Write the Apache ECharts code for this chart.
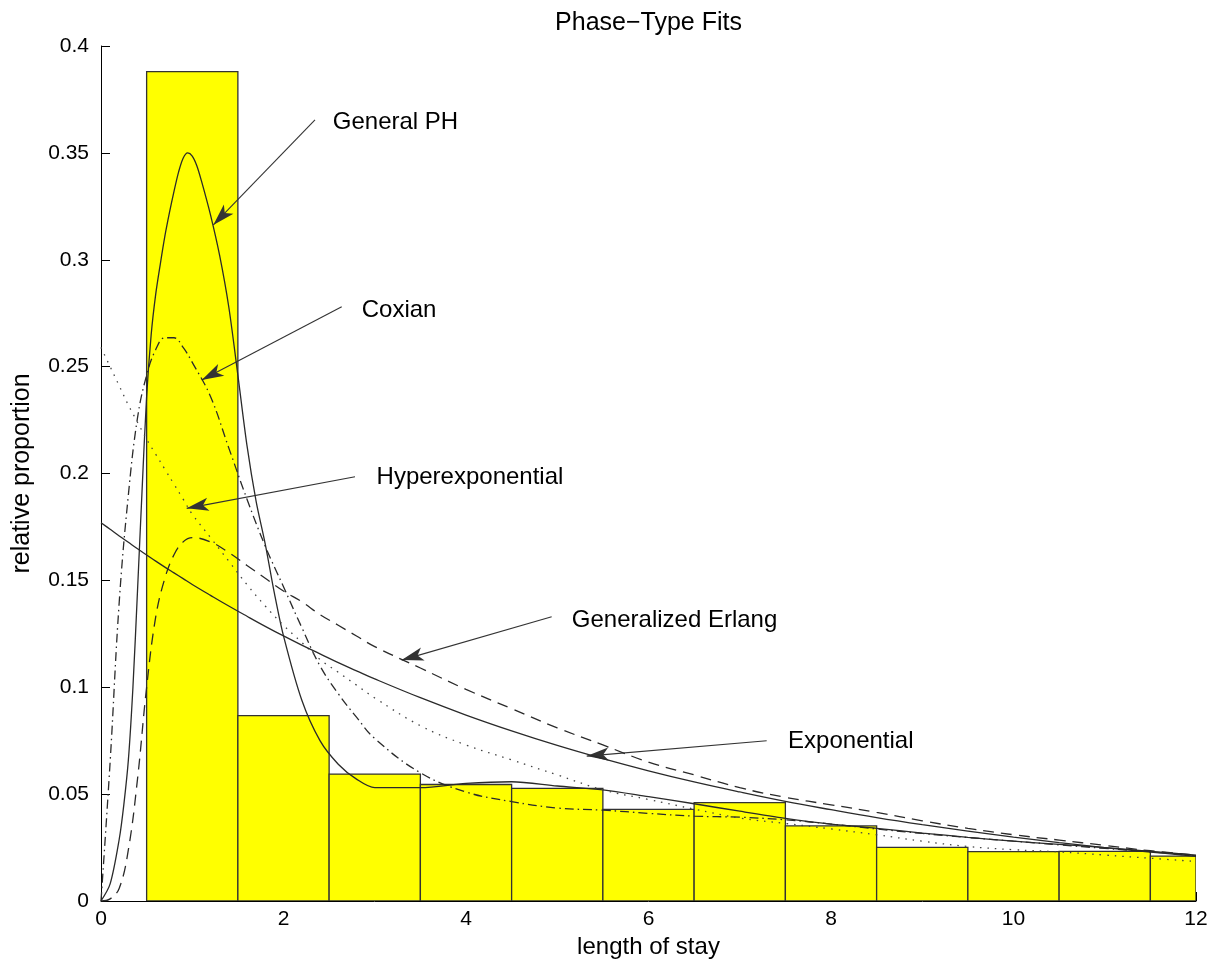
<!DOCTYPE html>
<html>
<head>
<meta charset="utf-8">
<script src="https://cdn.jsdelivr.net/npm/echarts@6/dist/echarts.min.js"></script>
<style>
html,body{margin:0;padding:0;background:#fff;}
#chart{width:1214px;height:965px;}
</style>
</head>
<body>
<div id="chart"></div>
<script>
// ---- data ----
const binCenters = [1, 2, 3, 4, 5, 6, 7, 8, 9, 10, 11, 12];
const binHeights = [0.388, 0.0867, 0.0594, 0.0545, 0.0527, 0.0429, 0.046, 0.0351, 0.0251, 0.0231, 0.0232, 0.021];

// General PH is read on a finer grid around its sharp peak
const phX = [0, 0.1, 0.2, 0.25, 0.3, 0.35, 0.4, 0.45, 0.5, 0.55, 0.6, 0.65, 0.7, 0.75, 0.8, 0.85, 0.9, 0.95,
             1.0, 1.05, 1.1, 1.2, 1.3, 1.4, 1.5, 1.6, 1.7, 1.8, 1.9, 2.0, 2.2, 2.4, 2.6, 2.8, 3.0,
             3.5, 4.0, 4.5, 5.0, 5.5, 6.0, 6.5, 7.0, 7.5, 8.0, 8.5, 9.0, 9.5, 10, 10.5, 11, 11.5, 12];
const generalPH = [0, 0.008, 0.029, 0.045, 0.066, 0.100, 0.145, 0.192, 0.236, 0.265, 0.284, 0.298, 0.311, 0.322, 0.332, 0.341, 0.3475, 0.350,
                   0.3485, 0.344, 0.337, 0.321, 0.302, 0.278, 0.246, 0.213, 0.187, 0.167, 0.144, 0.124, 0.094, 0.075, 0.064, 0.057, 0.053,
                   0.053, 0.055, 0.0558, 0.0538, 0.052, 0.0488, 0.0455, 0.042, 0.0387, 0.036, 0.034, 0.0318, 0.0298, 0.028, 0.0265, 0.025, 0.0232, 0.0215];

const xs = [0, 0.1, 0.2, 0.3, 0.4, 0.5, 0.6, 0.7, 0.8, 0.9, 1.0,
            1.2, 1.4, 1.6, 1.8, 2.0, 2.2, 2.4, 2.6, 2.8, 3.0,
            3.5, 4.0, 4.5, 5.0, 5.5, 6.0, 6.5, 7.0, 7.5, 8.0, 8.5, 9.0, 9.5, 10, 10.5, 11, 11.5, 12];

const coxian = [0, 0.065, 0.140, 0.190, 0.226, 0.246, 0.258, 0.2635, 0.2635, 0.259, 0.252,
                0.236, 0.212, 0.188, 0.166, 0.147, 0.128, 0.110, 0.097, 0.086, 0.076,
                0.060, 0.051, 0.0465, 0.0435, 0.0425, 0.041, 0.0397, 0.0392, 0.038, 0.036, 0.0337, 0.0316, 0.0297, 0.028, 0.0263, 0.0246, 0.023, 0.0212];

const hyperExp = [0.259, 0.250, 0.241, 0.232, 0.224, 0.216, 0.209, 0.202, 0.195, 0.188, 0.181,
                  0.170, 0.159, 0.148, 0.138, 0.129, 0.121, 0.113, 0.107, 0.101, 0.095,
                  0.082, 0.073, 0.066, 0.059, 0.052, 0.0475, 0.043, 0.0388, 0.0363, 0.0337, 0.031, 0.028, 0.0255, 0.024, 0.023, 0.0215, 0.020, 0.0185];

const genErlang = [0, 0.001, 0.006, 0.024, 0.057, 0.100, 0.133, 0.151, 0.162, 0.168, 0.170,
                   0.168, 0.163, 0.157, 0.151, 0.145, 0.140, 0.134, 0.129, 0.124, 0.119,
                   0.109, 0.099, 0.090, 0.081, 0.073, 0.065, 0.059, 0.053, 0.0485, 0.045, 0.0415, 0.0375, 0.034, 0.031, 0.0285, 0.026, 0.0235, 0.0215];

const exponential = [0.1770, 0.1739, 0.1708, 0.1678, 0.1648, 0.1619, 0.1590, 0.1562, 0.1535, 0.1508, 0.1481,
                     0.1430, 0.1380, 0.1332, 0.1285, 0.1240, 0.1197, 0.1156, 0.1115, 0.1077, 0.1039,
                     0.0951, 0.0870, 0.0796, 0.0728, 0.0666, 0.0609, 0.0557, 0.0510, 0.0466, 0.0427, 0.0390, 0.0357, 0.0327, 0.0299, 0.0273, 0.0250, 0.0229, 0.0209];

const xTicks = [0, 2, 4, 6, 8, 10, 12];
const yTicks = [0, 0.05, 0.1, 0.15, 0.2, 0.25, 0.3, 0.35, 0.4];

// annotation: label, text anchor [x,y], arrow start [x,y], arrow tip [x,y]
const annLabels = ['General PH', 'Coxian', 'Hyperexponential', 'Generalized Erlang', 'Exponential'];
const annText  = [[2.54, 0.3644], [2.857, 0.2765], [3.02, 0.1984], [5.16, 0.1315], [7.53, 0.0749]];
const annStart = [[2.345, 0.3654], [2.638, 0.278], [2.784, 0.1985], [4.939, 0.133], [7.295, 0.075]];
const annTip   = [[1.231, 0.3163], [1.104, 0.2437], [0.939, 0.1837], [3.295, 0.1127], [5.323, 0.0678]];

// ---- chart ----
const FONT = '"Liberation Sans", Arial, Helvetica, sans-serif';
const chart = echarts.init(document.getElementById('chart'), null, {renderer: 'canvas'});

function pairs(xv, ys) { return xv.map((x, i) => [x, ys[i]]); }

function annotation(i) {
  return {
    markLine: {
      silent: true,
      symbol: ['none', 'arrow'],
      symbolSize: [0, 16],
      label: {show: false},
      lineStyle: {color: '#333', width: 1.1, type: 'solid'},
      itemStyle: {color: '#000'},
      emphasis: {disabled: true},
      data: [[{coord: annStart[i]}, {coord: annTip[i], symbolSize: [10, 22]}]]
    },
    markPoint: {
      silent: true,
      symbol: 'circle',
      symbolSize: 0,
      data: [{
        coord: annText[i],
        label: {show: true, formatter: annLabels[i], position: 'right', distance: 0,
                color: '#000', fontSize: 24, fontFamily: FONT}
      }]
    }
  };
}

const lineCol = '#2a2a2a';
function curve(name, xv, ys, type, width, color, smooth, ann) {
  return Object.assign({
    name: name,
    type: 'line',
    data: pairs(xv, ys),
    showSymbol: false,
    symbol: 'none',
    smooth: smooth,
    clip: true,
    lineStyle: {color: color, width: width, type: type},
    emphasis: {disabled: true},
    z: 5
  }, annotation(ann));
}

const option = {
  animation: false,
  backgroundColor: '#fff',
  title: {
    text: 'Phase\u2212Type Fits',
    left: 643.5,
    textAlign: 'center',
    top: 6,
    textStyle: {fontFamily: FONT, fontSize: 25, fontWeight: 'normal', color: '#000'}
  },
  grid: {left: 101, right: 18, top: 46, bottom: 64, containLabel: false},
  xAxis: {
    type: 'value', min: 0, max: 12, interval: 2,
    name: 'length of stay', nameLocation: 'middle', nameGap: 33,
    nameTextStyle: {fontFamily: FONT, fontSize: 24, color: '#000'},
    axisLine: {show: true, lineStyle: {color: '#000', width: 1}},
    axisTick: {show: true, inside: true, length: 9, lineStyle: {color: '#000'}},
    axisLabel: {fontFamily: FONT, fontSize: 21, color: '#000', margin: 8,
                formatter: v => xTicks.indexOf(v) >= 0 ? String(v) : ''},
    splitLine: {show: false}
  },
  yAxis: {
    type: 'value', min: 0, max: 0.4, interval: 0.05,
    name: 'relative proportion', nameLocation: 'middle', nameGap: 66,
    nameTextStyle: {fontFamily: FONT, fontSize: 25, color: '#000'},
    axisLine: {show: true, lineStyle: {color: '#000', width: 1}},
    axisTick: {show: true, inside: true, length: 9, lineStyle: {color: '#000'}},
    axisLabel: {fontFamily: FONT, fontSize: 21, color: '#000', margin: 12,
                formatter: v => {
                  const t = yTicks.find(k => Math.abs(k - v) < 1e-9);
                  return t === undefined ? '' : String(t);
                }},
    splitLine: {show: false}
  },
  series: [
    {
      name: 'histogram',
      type: 'custom',
      clip: true,
      z: 2,
      data: binCenters.map((c, i) => [c, binHeights[i]]),
      renderItem: function (params, api) {
        const c = api.value(0), h = api.value(1);
        const p0 = api.coord([c - 0.5, h]);
        const p1 = api.coord([c + 0.5, 0]);
        const cs = params.coordSys;
        const x0 = Math.max(p0[0], cs.x);
        const x1 = Math.min(p1[0], cs.x + cs.width);
        return {
          type: 'rect',
          shape: {x: x0, y: p0[1], width: x1 - x0, height: p1[1] - p0[1]},
          style: {fill: '#ffff00', stroke: '#333', lineWidth: 1.3}
        };
      }
    },
    curve('General PH', phX, generalPH, 'solid', 1.3, lineCol, 0.3, 0),
    curve('Coxian', xs, coxian, [9, 4, 1.5, 4], 1.3, lineCol, 0.4, 1),
    curve('Hyperexponential', xs, hyperExp, [1.5, 6], 1.3, '#444', 0.4, 2),
    curve('Generalized Erlang', xs, genErlang, [11, 7], 1.3, lineCol, 0.4, 3),
    curve('Exponential', xs, exponential, 'solid', 1.3, lineCol, 0.4, 4)
  ]
};
chart.setOption(option);
</script>
</body>
</html>
